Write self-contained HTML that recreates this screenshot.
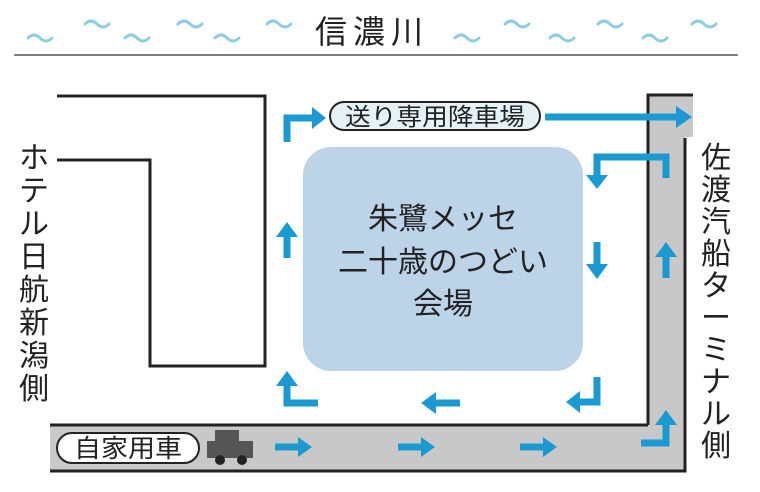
<!DOCTYPE html>
<html><head><meta charset="utf-8"><style>
body{margin:0;background:#fff;}
svg{display:block}
text{font-family:"Liberation Sans","Noto Sans CJK JP",sans-serif;fill:#222}
</style></head><body>
<svg width="760" height="492" viewBox="0 0 760 492" xmlns="http://www.w3.org/2000/svg">
<g fill="none" stroke="#8fcbe2" stroke-width="3" stroke-linecap="round">
<path d="M28 38 q6 -6 12 0 t12 0"/><path d="M85 24 q6 -6 12 0 t12 0"/><path d="M125 38 q6 -6 12 0 t12 0"/><path d="M178 24 q6 -6 12 0 t12 0"/><path d="M215 38 q6 -6 12 0 t12 0"/><path d="M267 24 q6 -6 12 0 t12 0"/>
<path d="M455 38 q6 -6 12 0 t12 0"/><path d="M505 24 q6 -6 12 0 t12 0"/><path d="M550 38 q6 -6 12 0 t12 0"/><path d="M598 24 q6 -6 12 0 t12 0"/><path d="M643 38 q6 -6 12 0 t12 0"/><path d="M692 24 q6 -6 12 0 t12 0"/>
</g>
<text x="372" y="43" font-size="32" text-anchor="middle" letter-spacing="6">信濃川</text>
<line x1="14" y1="55" x2="738" y2="55" stroke="#555" stroke-width="1.5"/>
<path d="M648 95 H693 V137 H685 V471 H50 V425 H648 Z" fill="#c8c8c8"/>
<path d="M648 425 V95 H693" fill="none" stroke="#222" stroke-width="3"/>
<path d="M50 425 H648" fill="none" stroke="#222" stroke-width="3"/>
<path d="M50 471 H685 V138" fill="none" stroke="#222" stroke-width="3"/>
<path d="M57 96 H265 V366 H150 V160 H57" fill="none" stroke="#222" stroke-width="3"/>
<rect x="303" y="147" width="280" height="224" rx="28" fill="#bcd3e8"/>
<text x="443" y="229" font-size="30" text-anchor="middle">朱鷺メッセ</text>
<text x="443" y="272" font-size="30" text-anchor="middle">二十歳のつどい</text>
<text x="443" y="314" font-size="30" text-anchor="middle">会場</text>
<g font-size="30" text-anchor="middle">
<text x="34" y="168">ホ</text><text x="34" y="201">テ</text><text x="34" y="234">ル</text><text x="34" y="267">日</text><text x="34" y="300">航</text><text x="34" y="333">新</text><text x="34" y="366">潟</text><text x="34" y="399">側</text>
<text x="716" y="168">佐</text><text x="716" y="200">渡</text><text x="716" y="232">汽</text><text x="716" y="264">船</text><text x="716" y="296">タ</text><text x="716" y="328">ー</text><text x="716" y="360">ミ</text><text x="716" y="392">ナ</text><text x="716" y="424">ル</text><text x="716" y="456">側</text>
</g>
<rect x="330" y="102" width="210" height="28" rx="14" fill="#e4f1f7" stroke="#222" stroke-width="2"/>
<text x="345" y="125" font-size="24" textLength="180" lengthAdjust="spacingAndGlyphs">送り専用降車場</text>
<rect x="57" y="433" width="142" height="30" rx="15" fill="#fff" stroke="#222" stroke-width="2"/>
<text x="74" y="457" font-size="25" textLength="108" lengthAdjust="spacingAndGlyphs">自家用車</text>
<rect x="215" y="430" width="24" height="14" fill="#555"/>
<rect x="207" y="441" width="46" height="17" fill="#555"/>
<circle cx="220" cy="460" r="5" fill="#222"/><circle cx="242" cy="460" r="5" fill="#222"/>
<g fill="none" stroke="#1a9ad0" stroke-width="7">
<path d="M287 142 V118 H312"/>
<path d="M545 117 H676"/>
<path d="M666 178 V157 H597 V175"/>
<path d="M597 242 V266"/>
<path d="M597 377 V402 H580"/>
<path d="M460 403 H436"/>
<path d="M318 403 H287 V385"/>
<path d="M287 258 V236"/>
<path d="M666 278 V256"/>
<path d="M641 443 H666 V424"/>
<path d="M275 447 H298"/><path d="M398 447 H421"/><path d="M520 447 H543"/>
</g>
<g fill="#1a9ad0">
<polygon points="312,107 326,118 312,129"/>
<polygon points="676,106 692,117 676,128"/>
<polygon points="586,175 608,175 597,189"/>
<polygon points="586,264 608,264 597,279"/>
<polygon points="580,391 566,402 580,413"/>
<polygon points="436,392 421,403 436,414"/>
<polygon points="276,386 298,386 287,371"/>
<polygon points="276,237 298,237 287,222"/>
<polygon points="655,257 677,257 666,242"/>
<polygon points="655,425 677,425 666,410"/>
<polygon points="298,437 312,447 298,457"/><polygon points="421,437 435,447 421,457"/><polygon points="543,437 557,447 543,457"/>
</g>
</svg>
</body></html>
